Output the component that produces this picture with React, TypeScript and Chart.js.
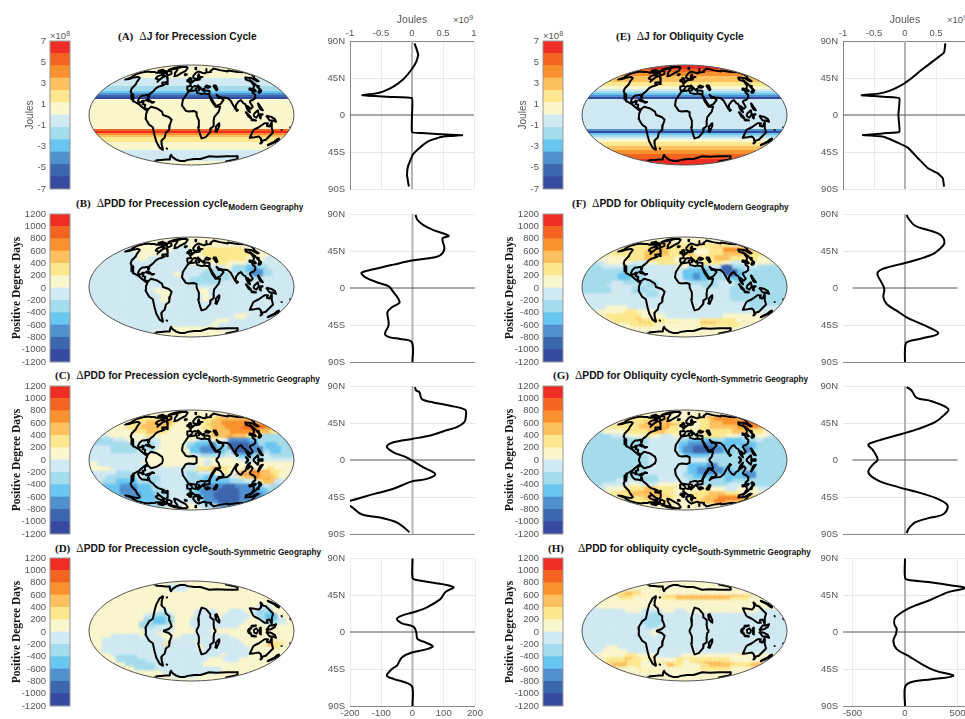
import React, { useEffect, useRef } from "react";
import { Chart, registerables } from "chart.js";

Chart.register(...registerables);

// ---------- colour levels (a = most negative ... l = most positive) ----------
const levelKeys = ["a", "b", "c", "d", "e", "f", "g", "h", "i", "j", "k", "l"];
const levelColors = ["#364A9F", "#3C66AE", "#5090CF", "#69C6F0", "#A5DCEC", "#D0E9F2", "#FAF6CE", "#FDE88F", "#FDC25F", "#F9922E", "#F36421", "#EF2D25"];

const joulesEdges = [-7, -5.83, -4.67, -3.5, -2.33, -1.17, 0, 1.17, 2.33, 3.5, 4.67, 5.83, 7];
const pddEdges = [-1200, -1000, -800, -600, -400, -200, 0, 200, 400, 600, 800, 1000, 1200];
const joulesTicks = [-7, -5, -3, -1, 1, 3, 5, 7];
const pddTicks = [-1200, -1000, -800, -600, -400, -200, 0, 200, 400, 600, 800, 1000, 1200];
const latTicks = [-90, -45, 0, 45, 90];
const latNames: Record<string, string> = { "-90": "90S", "-45": "45S", "0": "0", "45": "45N", "90": "90N" };

// ---------- map fields: rows top to bottom, run-length coded levels ----------
const zonalA = "g7f4e3d1c1b1a1g16k1l1j1i1h3g4f6g2";
const zonalE = "l2k2j2i3h2g2f1e1d1c1a1f16c1a1d1e1f1g2h2i2j2k3l3";

const fieldB = [
  "f10g24f10", "f10g24f10", "f9g11f1g3h10g6f4", "f9g9f3g3h12g4f4", "f10g6f5g3h11g4f5", "f10g3f8g4h9g4f6",
  "f21g6h3g4f5g1f4", "f24g2f3g2e3d2e2f6", "f17g3f5e4f3e3c2e2f5", "f18g2f4e6f5e1f8", "f22e6f16", "f44",
  "f13g5f5g3f18", "f14g4f5g3f18", "f15g3f6g3f17", "f15g2f7g2f11g2f5", "f16g2f26", "f44",
  "f31g4f9", "f27g7f10", "f26g4f14", "f17g11f16", "f14g18f12", "g44",
];
const fieldC = [
  "g44", "g10h6i2g6h3i8h4g5", "g9h3i5j1h2g4h2i2j8i3h2g3", "g8h3i7h1g5h1i3j5k5j3i2g1",
  "g6h4i7h1g6h2i3j3k6j4i2h1g5", "f3g6h3i3h2g6h3i4j6i3h3f2", "f4g8h2g7g3h2i3j2i3h3e7", "e5f3g4f3g7h1f1e2g3f1c4d2e2e6",
  "f5e4f3e2f1g6e2d3c1e2f1b4c2e2d2e4", "f5e5f3e1g8d2c3d2e1f1b3c3e2d2e3", "f12g10f2e5f3d3e2f2e5", "f12g20f3e2f7",
  "g2f9g14f1g8f1g9", "g5f7g9f2h3i3h2g2h2g3h2g4", "g6f7g1f7g1h2i4h2g2i2k1l1j3h3g2", "f6e3f4f8e2f3g3h2j1l2j3i3h1g3",
  "f4e6f2e3f7e3d2e3f2h1i2j4i2g3", "f3e3d4e4f7e3d6e3f3h1i3f4", "f3d4c3d3e2f6e2d2c4b2c4d2f2e5", "e4d3c3d3e3f6e1d1c4b4c4d2e2f4",
  "f5e3c3d3e3f5e2d1c2b5c5d2e1f4", "f10d4e3f6e2c3b4c5d2e2f3", "f12e4f4g3f2e3c3d5e4f4", "f16g8f4e6f10",
];
const fieldD = [
  "g44", "g17f4g23", "g44", "g44", "g44", "g44",
  "g36f3g5", "g15f2g6f4g3f3g2f1e3g5", "g12f2e3f1g5f4g2f5g2f1e1d2g4", "g12e2d2e2g4f5g1f5g4f1e2f2g2", "g11e3f3g5f10g11", "g12f6g5f3g18",
  "g11h1f2g9f3g18", "g5f6g1f3g5f4g2f4g14", "g3f10h1f2h2f3g3f8g6i2h2g2", "g3f12h2f2g1f3h2f8g4h1j2h2g2", "g3f14g1f5g2f9g5h2g3", "g5f23g2f4g10",
  "g6e4f15g4f3g12", "g8e4f12g20", "g10e4f10g20", "g16f12g16", "g18f5g21", "g44",
];
const fieldF = [
  "g44", "g10h6i4h4i2h6g12", "g8h6i5h3i2h4i2j5i2h3g4", "g6h7i6h2i3g3h3j6i2h3g3",
  "g5h8i6h3i3h3i8h4g4", "f2g7h4i3h4g3h5i4h6g6", "e3f2g6f3g2h6g4h4g2f3g6f3", "e4f5e3f9g2e4f3b2e3f3e6",
  "e9f2e2f9d5e4b2d1e10", "e8d2e3f9d2c1d2e5d2e10", "e6f3e4f10e4f6e11", "e5f9e2f10e3f4e11",
  "e6f5e3f18e12", "f14e2f16e12", "f32e4f1e7", "f36e8",
  "f5g5f26e3f5", "f3g6h3g4f28", "g5h8g5f12g10f4", "g4h7i2h5g7h8g11",
  "g6h6i3h6g4j4h7g8", "g10h6g8h10g10", "g44", "g44",
];
const fieldG = [
  "g44", "g10h5i4g4h3j7i3g8", "g9h4i5j1h3g2h3i1j5k4j2i2g3", "g6h6i6j3h2g2h2i3j4k5j1i1h1g2",
  "g5h7i5j2h2g2h4i6j5i2h2g2", "f3e1g5h5i4h3g4h7i4h3g5", "e6f4g3h2g2f2g6h6g3f3g3f1e3", "e12f1e1f7e2d4e4d3e3f2e5",
  "e13f8d2c6d3e2d3e7", "e12f9d1c2b4c2d2e3c1e8", "e13f9d5e17", "e14f13e17",
  "e14f13e17", "e14f9d4c2e15", "e13f10d2c5d2e12", "e12f10e2d4e4d3c2e7",
  "e7f5e4f7e8d1e12", "e4f6g3f3g6f3e6f4e9", "f5g4h4i3h5g4h3g3f2g5f6", "g5h3i4j3i2h3g3h4i4h3g10",
  "g6h4i5j1i3h2g2h3i3j6i4h3g2", "g8h5i4h3g2h3i3k6j3i2g5", "g10h6i3h2g2h2i3j3i4g9", "g44",
];
const fieldH = [
  "g44", "g44", "g6h3i4g31", "g4h3i4h3g3i3j15i2h2g5",
  "g8h3g6h3i12h4g8", "g44", "f3g41", "f9g4f4g3f2g16f6",
  "f14e3f27", "f13e4f27", "f14e2f28", "f15g2f27",
  "f14g3f27", "f15g1f28", "f44", "f5g3f36",
  "f4g6f34", "f2g7h3g4f5g12h2g9", "g5h4i2h5g4h12g12", "g4i6h3g2h2i3h2g1h1i2j4i3h3i3j2i2h1",
  "g6i4h3g5i2h2g3h2i5h3i3j2h2g2", "g12h6g6h8g12", "g44", "g44",
];

// ---------- coastlines as [lon, lat] ----------
const coastNorthAmerica = [[-168,66],[-162,70],[-156,71],[-141,70],[-128,70],[-115,68],[-108,68],[-95,68],[-94,72],[-88,68],[-82,69],[-85,66],[-94,61],[-92,57],[-82,55],[-80,51],[-79,55],[-77,60],[-78,62],[-70,61],[-65,59],[-60,55],[-56,52],[-60,50],[-66,50],[-65,47],[-60,46],[-66,44],[-70,43],[-74,40],[-76,36],[-81,31],[-80,26],[-82,27],[-84,30],[-90,29],[-94,29],[-97,26],[-98,21],[-95,18],[-91,19],[-90,21],[-87,21],[-88,16],[-83,15],[-83,10],[-79,9],[-77,8],[-80,7],[-85,10],[-90,13],[-95,16],[-105,20],[-109,26],[-113,31],[-110,23],[-115,29],[-117,33],[-121,35],[-124,40],[-124,47],[-128,51],[-135,58],[-145,60],[-152,59],[-158,56],[-165,55],[-160,59],[-165,62],[-168,66]];
const coastGreenland = [[-73,78],[-60,82],[-35,83],[-20,80],[-22,72],[-32,68],[-42,62],[-48,61],[-53,67],[-58,75],[-73,78]];
const coastBaffin = [[-80,73],[-70,70],[-62,66],[-68,63],[-75,65],[-85,70],[-80,73]];
const coastVictoria = [[-115,72],[-105,73],[-102,69],[-115,69],[-115,72]];
const coastEllesmere = [[-90,80],[-70,83],[-62,82],[-78,76],[-90,76],[-90,80]];
const coastBanks = [[-125,72],[-118,75],[-116,72],[-125,72]];
const coastDevon = [[-92,76],[-82,75],[-92,74],[-92,76]];
const coastSouthampton = [[-86,65],[-81,63],[-85,63],[-86,65]];
const coastNewfoundland = [[-59,48],[-53,47],[-56,51],[-59,48]];
const coastCuba = [[-85,22],[-80,23],[-74,20],[-78,20],[-85,22]];
const coastHispaniola = [[-74,19],[-68,19],[-71,18],[-74,19]];
const coastSouthAmerica = [[-77,8],[-72,12],[-62,10],[-52,5],[-50,0],[-40,-3],[-35,-7],[-39,-15],[-41,-22],[-48,-26],[-53,-34],[-57,-36],[-62,-39],[-65,-45],[-68,-52],[-70,-54],[-74,-50],[-73,-40],[-71,-30],[-70,-18],[-76,-14],[-81,-5],[-80,1],[-77,8]];
const coastFalkland = [[-60,-51],[-58,-52],[-60,-51]];
const coastAfrica = [[-6,35],[10,37],[11,33],[20,31],[25,32],[33,31],[37,20],[43,12],[51,12],[48,5],[40,-3],[39,-10],[40,-16],[35,-20],[35,-25],[28,-33],[20,-35],[17,-30],[12,-18],[13,-8],[9,-1],[9,4],[4,6],[-5,5],[-10,6],[-17,14],[-16,22],[-10,30],[-6,35]];
const coastMadagascar = [[49,-12],[50,-16],[47,-25],[44,-24],[44,-17],[49,-12]];
const coastEurasia = [[-9,37],[-9,43],[-1,44],[-3,48],[3,51],[8,54],[8,57],[11,54],[20,55],[24,59],[30,60],[22,60],[22,65],[18,62],[17,57],[12,56],[6,58],[5,62],[14,68],[25,71],[40,67],[44,68],[55,69],[68,70],[73,73],[87,75],[105,78],[113,74],[130,71],[140,73],[160,70],[180,69],[180,65],[170,60],[163,58],[160,52],[156,52],[156,58],[143,59],[135,55],[141,52],[135,44],[128,40],[129,36],[126,35],[125,39],[121,40],[118,38],[122,37],[120,33],[122,30],[119,25],[113,22],[108,21],[106,19],[109,12],[105,9],[100,13],[103,4],[100,6],[98,10],[97,16],[94,17],[91,22],[86,20],[80,15],[78,8],[73,18],[72,21],[67,25],[57,26],[52,27],[48,30],[51,25],[56,25],[59,22],[52,16],[44,13],[39,21],[35,28],[36,36],[27,37],[26,40],[23,37],[20,40],[14,45],[18,40],[16,38],[12,43],[8,44],[3,43],[0,39],[-5,36],[-9,37]];
const coastBlackSea = [[28,42],[33,45],[40,43],[35,41],[28,42]];
const coastCaspian = [[47,45],[53,45],[53,38],[50,37],[47,45]];
const coastBritain = [[-5,50],[1,52],[-2,58],[-6,57],[-5,50]];
const coastIreland = [[-10,52],[-6,52],[-7,55],[-10,54],[-10,52]];
const coastIceland = [[-22,65],[-14,65],[-18,63],[-22,65]];
const coastJapan = [[130,32],[136,34],[141,37],[141,41],[145,44],[141,45],[139,38],[130,33]];
const coastSumatra = [[95,5],[104,-3],[106,-6],[100,-2],[95,5]];
const coastBorneo = [[109,1],[117,7],[118,1],[114,-4],[110,-2],[109,1]];
const coastJava = [[106,-6],[114,-8],[106,-7.5],[106,-6]];
const coastSulawesi = [[120,1],[125,1],[121,-1],[122,-5],[120,-4],[120,1]];
const coastPhilippines = [[120,18],[122,14],[126,7],[122,8],[120,14],[120,18]];
const coastNewGuinea = [[131,-1],[141,-3],[147,-6],[150,-10],[143,-8],[138,-8],[131,-1]];
const coastAustralia = [[114,-22],[122,-18],[130,-12],[136,-12],[136,-16],[141,-17],[142,-11],[146,-19],[153,-26],[150,-37],[143,-39],[138,-35],[131,-32],[124,-33],[115,-34],[114,-22]];
const coastTasmania = [[145,-41],[148,-41],[147,-43],[145,-41]];
const coastNewZealand = [[172,-35],[178,-38],[175,-41],[168,-46],[167,-45],[172,-40],[172,-35]];
const coastSvalbard = [[15,78],[25,80],[20,76],[15,78]];
const coastNovaya = [[52,71],[68,77],[56,72],[52,71]];
const coastSakhalin = [[142,46],[143,54],[142,52],[142,46]];
const coastSriLanka = [[80,9],[82,7],[80,6],[80,9]];
const coastNewCaledonia = [[165,-21],[166,-22],[165,-21]];
const coastFiji = [[178,-17],[179,-18],[178,-17]];
const coastCrete = [[24,35],[26,35],[24,35]];
const coastSicily = [[13,38],[15,37],[13,38]];
const coastSardinia = [[9,41],[9.5,39],[8.5,39],[9,41]];
const coastCyprus = [[33,35],[34,35],[33,35]];
const coastAntarctica = [[-180,-78],[-160,-77],[-145,-75],[-120,-74],[-100,-73],[-85,-73],[-75,-70],[-66,-66],[-59,-63],[-62,-68],[-60,-73],[-50,-77],[-33,-77],[-15,-74],[10,-72],[33,-72],[55,-66],[80,-67],[109,-66],[143,-66],[160,-70],[170,-73],[165,-78],[180,-78]];
const coasts = [coastNorthAmerica, coastGreenland, coastBaffin, coastVictoria, coastEllesmere, coastBanks, coastDevon, coastSouthampton, coastNewfoundland, coastCuba, coastHispaniola, coastSouthAmerica, coastFalkland, coastAfrica, coastMadagascar, coastEurasia, coastBlackSea, coastCaspian, coastBritain, coastIreland, coastIceland, coastJapan, coastSumatra, coastBorneo, coastJava, coastSulawesi, coastPhilippines, coastNewGuinea, coastAustralia, coastTasmania, coastNewZealand, coastSvalbard, coastNovaya, coastSakhalin, coastSriLanka, coastNewCaledonia, coastFiji, coastCrete, coastSicily, coastSardinia, coastCyprus, coastAntarctica];

// ---------- zonal-mean profiles ----------
const latA = [87,81,73,65,55,43.5,34.6,28.5,26,24,23,22,20.5,0,-20.8,-22,-23,-24.5,-25.5,-27,-32,-40,-48,-62.5,-72.7,-80.8,-87];
const valA = [0.04,0.07,0.1,0.07,-0.01,-0.14,-0.3,-0.47,-0.6,-0.81,-0.6,-0.35,0,0,0,0.15,0.4,0.81,0.6,0.45,0.26,0.12,0.015,-0.065,-0.08,-0.065,-0.05];
const latE = [87,76,67,55,45,36.6,29.7,26,24,23,22,20.4,0,-20.5,-22,-23.5,-24.5,-25.5,-27,-34,-40,-52.6,-64.7,-71,-77,-87];
const valE = [0.65,0.63,0.48,0.27,0.11,-0.05,-0.24,-0.42,-0.7,-0.5,-0.3,-0.09,-0.107,-0.09,-0.3,-0.5,-0.68,-0.45,-0.32,-0.11,0.05,0.21,0.37,0.53,0.61,0.63];
const latB = [88.8,82.7,76.5,70.4,63.5,60.2,48,39.8,37,33.7,28.4,22.7,18.6,13.3,7,2.2,-5,-13.3,-18.2,-23.5,-29.6,-39.8,-46,-56,-60,-62,-66,-90];
const valB = [9.6,16,35,67,115.5,96,102,89,67,3,-61,-125,-163,-152,-114,-77,-61,-45,-42,-66,-80,-77,-77,-88,-72,-40,-2,0];
const latC = [88.6,84.5,82.5,74,70,66,61,54,46,40,35,29.7,25.6,21.5,16,9.3,4,-1.6,-9,-17,-23,-26,-35,-41.5,-49.6,-52,-55.7,-66,-70,-76,-83,-88];
const valC = [7.5,12,22,30,67,121,169,171,166,142,99,57,-2,-61,-82,-61,-24,3,35,73,46,-2,-61,-125,-200,-240,-200,-163,-104,-50,-24,-10];
const latD = [89,66,63.5,60,54.6,48.5,40,30,24,20,16,10.6,6.5,0,-8.5,-12.6,-17.5,-20.8,-25,-31,-41,-45,-53,-57,-62.7,-67.6,-90];
const valD = [0,0,8.5,67,131,105,89,46,3,-34,-50,-34,3,12,16,41,65,46,-2,-34,-50,-66,-82,-61,-13,0,0];
const latF = [88.8,84.7,75.7,70.4,65,55,46,40.6,33.7,28.4,22.7,17.3,6.3,-1,-11.2,-19.4,-27.6,-35.7,-44,-55,-61.4,-66,-74.5,-90];
const valF = [16,32,95,222,333,375,317,254,95,-63,-222,-263,-222,-197,-206,-175,-79,16,159,317,159,16,0,0];
const latG = [88.6,84.5,75.6,71.5,62,54,46,37.8,31.7,23.6,18.7,11.4,0,-5,-15,-25,-33,-39.4,-47.5,-55.7,-66,-70.7,-76,-84,-89];
const valG = [16,63,111,254,413,365,286,127,-32,-254,-349,-302,-260,-302,-349,-254,-63,127,317,406,365,222,95,32,16];
const latH = [89,66,63.5,60.7,56.6,53.3,48.5,38,32,25,17,9.8,3.7,-2.4,-10.6,-20.8,-29,-39,-47,-53.3,-57.4,-61.5,-67.6,-90];
const valH = [0,0,25,222,444,571,413,222,95,-16,-95,-102,-79,-86,-111,-79,32,159,286,460,254,48,0,0];

// ---------- helpers ----------
const sans = "'Liberation Sans', Arial, sans-serif";
const serif = "'Liberation Serif', 'Times New Roman', serif";
const tickGray = "#555";

function expandRuns(rle: string): string {
  let out = "";
  for (const m of rle.match(/[a-l]\d*/g) || []) out += m[0].repeat(m.length > 1 ? parseInt(m.slice(1), 10) : 1);
  return out;
}
const zonalRows = (rle: string) => expandRuns(rle).split("").map((c) => c.repeat(44));

function mollweide(lon: number, lat: number) {
  const phi = (lat * Math.PI) / 180;
  let th = phi;
  for (let i = 0; i < 30; i++) {
    const d = 2 + 2 * Math.cos(2 * th);
    if (Math.abs(d) < 1e-6) break;
    th -= (2 * th + Math.sin(2 * th) - Math.PI * Math.sin(phi)) / d;
  }
  return { x: (lon / 180) * Math.cos(th), y: Math.sin(th) };
}

function coastPoints(geo: string) {
  const pts: any[] = [];
  const addLine = (line: number[][]) => {
    for (const [lon, lat] of line) pts.push(mollweide(lon, lat));
    pts.push({ x: null, y: null });
  };
  for (const c of coasts) {
    if (geo === "modern") { addLine(c); continue; }
    const sign = geo === "north" ? 1 : -1;
    let cur: number[][] = [];
    for (let i = 0; i < c.length; i++) {
      const p = c[i];
      const inside = p[1] * sign >= 0;
      if (i > 0) {
        const q = c[i - 1];
        const qIn = q[1] * sign >= 0;
        if (inside !== qIn) {
          const t = q[1] / (q[1] - p[1]);
          const cross = [q[0] + t * (p[0] - q[0]), 0];
          cur.push(cross);
          if (qIn) { addLine(cur); addLine(cur.map(([a, b]) => [a, -b])); cur = []; }
        }
      }
      if (inside) cur.push(p);
    }
    if (cur.length) { addLine(cur); addLine(cur.map(([a, b]) => [a, -b])); }
  }
  return pts;
}

function useChart(make: (canvas: HTMLCanvasElement) => any) {
  const ref = useRef<HTMLCanvasElement | null>(null);
  useEffect(() => {
    const chart = new Chart(ref.current as HTMLCanvasElement, make(ref.current as HTMLCanvasElement));
    return () => chart.destroy();
  }, []);
  return ref;
}

const fixedTicks = (values: number[]) => (s: any) => { s.ticks = values.map((value) => ({ value })); };
const noPad = (s: any) => { s.paddingLeft = 0; s.paddingRight = 0; s.paddingTop = 0; s.paddingBottom = 0; };

// ---------- colour bar ----------
function ColorBar({ top, left, edges, ticks, title, serifTitle, gutter }: any) {
  const W = 20, H = 148, TG = 8, BG = 8, RG = 3;
  const ref = useChart(() => ({
    type: "bar",
    data: {
      labels: ["band"],
      datasets: levelColors.map((c, i) => ({
        data: [[edges[i], edges[i + 1]]],
        backgroundColor: c,
        borderWidth: 0,
        barPercentage: 1,
        categoryPercentage: 1,
        grouped: false,
      })),
    },
    options: {
      responsive: false,
      animation: false,
      events: [],
      layout: { padding: { top: TG, bottom: BG, right: RG, left: 0 } },
      plugins: { legend: { display: false }, tooltip: { enabled: false } },
      scales: {
        x: { display: false },
        y: {
          min: edges[0],
          max: edges[12],
          afterBuildTicks: fixedTicks(ticks),
          afterFit: (s: any) => { s.width = gutter; noPad(s); },
          grid: { display: false, drawTicks: false },
          border: { display: false },
          ticks: { autoSkip: false, padding: 4, color: tickGray, font: { family: sans, size: 9.5 }, callback: (v: number) => String(v) },
          title: {
            display: true,
            text: title,
            padding: 0,
            color: serifTitle ? "#111" : "#555",
            font: serifTitle ? { family: serif, size: 11.5, weight: "bold" } : { family: sans, size: 10 },
          },
        },
      },
    },
    plugins: [{
      id: "frame",
      afterDatasetsDraw(chart: any) {
        const a = chart.chartArea, c = chart.ctx;
        c.save();
        c.strokeStyle = "#9a9a9a";
        c.lineWidth = 1;
        c.strokeRect(a.left, a.top, a.right - a.left, a.bottom - a.top);
        c.restore();
      },
    }],
  }));
  return <canvas ref={ref} width={gutter + W + RG} height={H + TG + BG} style={{ position: "absolute", left: left - gutter, top: top - TG }} />;
}

// ---------- map ----------
function MapPanel({ left, top, rows, geo, zonal }: any) {
  const W = 211, H = 106, P = 2;
  const ref = useChart(() => {
    const cellW = Math.ceil(W / 44) + (zonal ? 1 : 2);
    const cellH = zonal ? Math.ceil(H / rows.length) : Math.ceil(H / rows.length) + 2;
    const cellDatasets = levelKeys.map((key, i) => {
      const sprite = document.createElement("canvas");
      sprite.width = cellW;
      sprite.height = cellH;
      const sc = sprite.getContext("2d") as CanvasRenderingContext2D;
      sc.fillStyle = levelColors[i];
      sc.fillRect(0, 0, cellW, cellH);
      const data: any[] = [];
      rows.forEach((row: string, r: number) => {
        const cells = zonal ? row : expandRuns(row).padEnd(44, expandRuns(row).slice(-1));
        for (let k = 0; k < 44; k++) {
          if (cells[k] === key) data.push({ x: -1 + (2 * (k + 0.5)) / 44, y: 1 - (2 * (r + 0.5)) / rows.length });
        }
      });
      return { type: "scatter", data, pointStyle: sprite, pointRadius: 3, showLine: false, clip: false as any };
    });
    return {
      type: "scatter",
      data: {
        datasets: [
          { data: coastPoints(geo), showLine: true, borderColor: "#000", borderWidth: 2, pointRadius: 0, tension: 0, spanGaps: false, borderJoinStyle: "round" },
          ...cellDatasets,
        ],
      },
      options: {
        responsive: false,
        animation: false,
        events: [],
        layout: { padding: P },
        plugins: { legend: { display: false }, tooltip: { enabled: false } },
        scales: {
          x: { type: "linear", min: -1, max: 1, display: false },
          y: { type: "linear", min: -1, max: 1, display: false },
        },
      },
      plugins: [{
        id: "ellipseFrame",
        beforeDatasetsDraw(chart: any) {
          const a = chart.chartArea, c = chart.ctx;
          c.save();
          c.beginPath();
          c.ellipse((a.left + a.right) / 2, (a.top + a.bottom) / 2, (a.right - a.left) / 2, (a.bottom - a.top) / 2, 0, 0, Math.PI * 2);
          c.fillStyle = "#FAF6CE";
          c.fill();
          c.clip();
        },
        beforeDatasetDraw(chart: any, args: any) {
          chart.ctx.filter = !zonal && args.index > 0 ? "blur(1.3px)" : "none";
        },
        afterDatasetDraw(chart: any) {
          chart.ctx.filter = "none";
        },
        afterDatasetsDraw(chart: any) {
          const a = chart.chartArea, c = chart.ctx;
          c.restore();
          c.beginPath();
          c.ellipse((a.left + a.right) / 2, (a.top + a.bottom) / 2, (a.right - a.left) / 2, (a.bottom - a.top) / 2, 0, 0, Math.PI * 2);
          c.strokeStyle = "#555";
          c.lineWidth = 1;
          c.stroke();
        },
      }],
    };
  });
  return <canvas ref={ref} width={W + 2 * P} height={H + 2 * P} style={{ position: "absolute", left: left - P, top: top - P }} />;
}

// ---------- profile ----------
function Profile({ left, top, lat, val, xMin, xMax, xTicks, xGrid, axis, frame, zeroSpan, tension }: any) {
  const W = xMax === 1 || xMax === 590 ? 124 : 125;
  const H = 148, LG = 40, RG = 14;
  const TG = 30, BG = 14;
  const topAxis = axis === "top", bottomAxis = axis === "bottom";
  const ref = useChart(() => ({
    type: "scatter",
    data: {
      datasets: [
        { data: lat.map((y: number, i: number) => ({ x: val[i], y })), showLine: true, borderColor: "#000", borderWidth: 2, pointRadius: 0, tension },
        { data: [{ x: zeroSpan[0], y: 0 }, { x: zeroSpan[1], y: 0 }], showLine: true, borderColor: "#555", borderWidth: 1, pointRadius: 0 },
        { data: [{ x: 0, y: -90 }, { x: 0, y: 90 }], showLine: true, borderColor: "#b4b4b4", borderWidth: 2, pointRadius: 0 },
      ],
    },
    options: {
      responsive: false,
      animation: false,
      events: [],
      layout: { padding: { top: topAxis ? 0 : TG, bottom: bottomAxis ? 0 : BG, right: RG, left: 0 } },
      plugins: { legend: { display: false }, tooltip: { enabled: false } },
      scales: {
        x: {
          type: "linear",
          position: topAxis ? "top" : "bottom",
          min: xMin,
          max: xMax,
          afterBuildTicks: fixedTicks(xTicks),
          afterFit: (s: any) => { s.height = topAxis ? TG : bottomAxis ? BG : 0; noPad(s); },
          border: { display: false },
          grid: { display: xGrid, drawTicks: false, color: "#ececec" },
          title: { display: topAxis, text: "Joules", padding: { top: 3, bottom: 0 }, color: tickGray, font: { family: sans, size: 10.5 } },
          ticks: { display: topAxis || bottomAxis, autoSkip: false, maxRotation: 0, padding: 2, color: tickGray, font: { family: sans, size: 9.5 }, callback: (v: number) => String(v) },
        },
        y: {
          type: "linear",
          min: -90,
          max: 90,
          afterBuildTicks: fixedTicks(latTicks),
          afterFit: (s: any) => { s.width = LG; noPad(s); },
          border: { display: frame, color: "#888" },
          grid: {
            drawTicks: false,
            color: (ctx: any) => {
              const v = ctx.tick && ctx.tick.value;
              if (v === 0) return "rgba(0,0,0,0)";
              if (v === 90) return frame ? "#888" : "#ececec";
              if (v === -90) return frame ? "#ececec" : "#888";
              return "#e6e6e6";
            },
          },
          ticks: { autoSkip: false, padding: 5, color: tickGray, font: { family: sans, size: 9.5 }, callback: (v: number) => latNames[String(v)] },
        },
      },
    },
  }));
  return <canvas ref={ref} width={LG + W + RG} height={TG + H + BG} style={{ position: "absolute", left: left - LG, top: top - TG }} />;
}

// ---------- titles ----------
function Title({ left, y, tag, main, sub, gap }: any) {
  return (
    <div style={{ position: "absolute", left, top: y - 7, height: 14, lineHeight: "14px", whiteSpace: "nowrap", color: "#111" }}>
      <span style={{ fontFamily: serif, fontWeight: "bold", fontSize: 11 }}>{tag}</span>
      <span style={{ fontFamily: serif, fontSize: 11.5, marginLeft: gap }}>Δ</span>
      <span style={{ fontFamily: sans, fontWeight: "bold", fontSize: 10.25 }}>{main}</span>
      {sub ? <span style={{ fontFamily: sans, fontWeight: "bold", fontSize: 8.2, position: "relative", top: 3 }}>{sub}</span> : null}
    </div>
  );
}

function Exponent({ left, y, power }: any) {
  return (
    <div style={{ position: "absolute", left, top: y - 7, height: 14, lineHeight: "14px", whiteSpace: "nowrap", color: "#555", fontFamily: sans, fontSize: 9.5 }}>
      ×10<span style={{ fontSize: 7, position: "relative", top: -3 }}>{power}</span>
    </div>
  );
}

const col1 = { bar: 50, map: 86, plot: 350 };
const col2 = { bar: 543, map: 579, plot: 843 };
const rowTops = { bar: [41, 214, 386, 558], map: [62, 234, 407, 578] };

const joulesTickLabels = [-1, -0.5, 0, 0.5, 1];
const pddTicksSmall = [-200, -100, 0, 100, 200];
const pddTicksWide = [-500, 0, 500];

export default function App() {
  const rowsAll = [
    { col: col1, r: 0, rows: zonalRows(zonalA), geo: "modern", zonal: true, lat: latA, val: valA },
    { col: col1, r: 1, rows: fieldB, geo: "modern", lat: latB, val: valB },
    { col: col1, r: 2, rows: fieldC, geo: "north", lat: latC, val: valC },
    { col: col1, r: 3, rows: fieldD, geo: "south", lat: latD, val: valD },
    { col: col2, r: 0, rows: zonalRows(zonalE), geo: "modern", zonal: true, lat: latE, val: valE },
    { col: col2, r: 1, rows: fieldF, geo: "modern", lat: latF, val: valF },
    { col: col2, r: 2, rows: fieldG, geo: "north", lat: latG, val: valG },
    { col: col2, r: 3, rows: fieldH, geo: "south", lat: latH, val: valH },
  ];
  return (
    <div style={{ position: "absolute", left: 0, top: 0, width: 965, height: 719, overflow: "hidden", background: "#fff" }}>
      <Title left={118} y={35} tag="(A)" gap={6} main="J for Precession Cycle" />
      <Title left={76} y={202} tag="(B)" gap={6} main="PDD for Precession cycle" sub="Modern Geography" />
      <Title left={55} y={374} tag="(C)" gap={6} main="PDD for Precession cycle" sub="North-Symmetric Geography" />
      <Title left={55} y={547} tag="(D)" gap={6} main="PDD for Precession cycle" sub="South-Symmetric Geography" />
      <Title left={616} y={35} tag="(E)" gap={6} main="J for Obliquity Cycle" />
      <Title left={572} y={202} tag="(F)" gap={6} main="PDD for Obliquity cycle" sub="Modern Geography" />
      <Title left={553} y={374} tag="(G)" gap={6} main="PDD for Obliquity cycle" sub="North-Symmetric Geography" />
      <Title left={548} y={547} tag="(H)" gap={14} main="PDD for obliquity cycle" sub="South-Symmetric Geography" />
      <Exponent left={50} y={36} power="8" />
      <Exponent left={543} y={36} power="8" />
      <Exponent left={453} y={20} power="9" />
      <Exponent left={947} y={20} power="9" />
      {rowsAll.map((p, i) => {
        const j = p.r === 0;
        const right = p.col === col2;
        const xMin = j ? -1 : right ? -590 : -200;
        const xMax = j ? 1 : right ? 590 : 200;
        const xTicks = j ? joulesTickLabels : right ? pddTicksWide : pddTicksSmall;
        const zeroSpan = right && (p.r === 1 || p.r === 2) ? [-500, 500] : [xMin, xMax];
        return (
          <React.Fragment key={i}>
            <ColorBar
              top={rowTops.bar[p.r]}
              left={p.col.bar}
              edges={j ? joulesEdges : pddEdges}
              ticks={j ? joulesTicks : pddTicks}
              title={j ? "Joules" : "Positive Degree Days"}
              serifTitle={!j}
              gutter={j ? 26 : 40}
            />
            <MapPanel left={p.col.map} top={rowTops.map[p.r]} rows={p.rows} geo={p.geo} zonal={p.zonal} />
            <Profile
              left={p.col.plot}
              top={rowTops.bar[p.r]}
              lat={p.lat}
              val={p.val}
              xMin={xMin}
              xMax={xMax}
              xTicks={xTicks}
              xGrid={p.r === 0 || p.r === 3}
              axis={p.r === 0 ? "top" : p.r === 3 ? "bottom" : "none"}
              frame={j}
              zeroSpan={zeroSpan}
              tension={j ? 0.1 : 0.35}
            />
          </React.Fragment>
        );
      })}
    </div>
  );
}
